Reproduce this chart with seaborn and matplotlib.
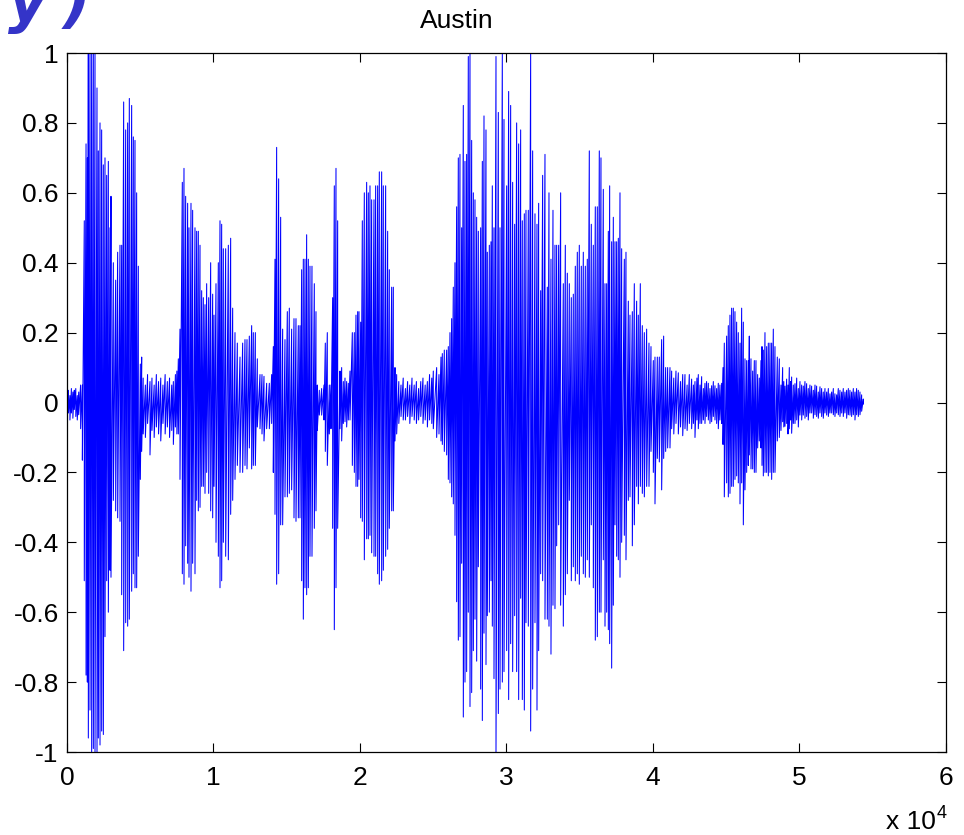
import numpy as np
import pandas as pd
import matplotlib
matplotlib.use("Agg")
import matplotlib.pyplot as plt
import seaborn as sns

# ---------------- data ----------------
# Each stroke of the waveform: sample index, upper peak, lower peak
stroke_pos = [
    0, 100, 200, 300, 400, 500, 600, 700, 800, 930, 1050, 1180, 1300, 1390,
    1456, 1570, 1684, 1798, 1912, 2048, 2139, 2253, 2366, 2480, 2594, 2708,
    2822, 2935, 3003, 3163, 3322, 3459, 3618, 3732, 3868, 4005, 4141, 4255,
    4414, 4528, 4642, 4755, 4869, 5006, 5097,
    5200, 5350, 5500, 5665, 5800, 5950, 6100, 6250, 6400, 6550, 6700, 6850,
    7000, 7150, 7260, 7400, 7500,
    7600, 7713, 7872, 7986, 8100, 8236, 8327, 8464, 8577, 8737, 8850, 8964,
    9080, 9193, 9307, 9420, 9534, 9671, 9807, 9944, 10035, 10171, 10330,
    10444, 10558, 10672, 10831, 11013, 11172, 11309, 11468, 11627, 11809,
    11991, 12150, 12287, 12446, 12605, 12719, 12856, 12992, 13174, 13311,
    13447, 13629, 13811, 13970,
    14084, 14198, 14311, 14448, 14585, 14721, 14880, 15040, 15176, 15335,
    15495, 15631, 15790, 15904, 16018, 16132, 16245, 16359, 16473, 16587,
    16723, 16882, 16996, 17087, 17224, 17383, 17542, 17633, 17769, 17906,
    18020, 18134, 18247, 18362, 18476, 18635, 18749, 18863, 18977, 19090,
    19204, 19318,
    19477, 19614, 19727, 19841, 19932, 20046, 20160, 20296, 20455, 20569,
    20683, 20797, 20956, 21070, 21206, 21320, 21479, 21593, 21752, 21889,
    22002, 22162, 22275, 22389, 22503,
    22650, 22800, 22950, 23100, 23250, 23400, 23550, 23700, 23850, 24000,
    24150, 24300, 24450, 24600, 24750, 24900,
    25005, 25233, 25392, 25529, 25620, 25756, 25915, 26029, 26143, 26257,
    26370, 26484, 26598, 26712, 26825, 26939, 27053, 27167, 27280, 27394,
    27509, 27623, 27737, 27850, 27964, 28078, 28237, 28351, 28465, 28601,
    28692, 28829, 28942, 29033, 29147, 29284, 29443, 29557, 29716, 29830,
    30012, 30148, 30285, 30421, 30558, 30694, 30831, 30967, 31081, 31217,
    31331, 31490, 31650, 31786, 31945, 32082, 32196, 32332, 32469, 32628,
    32787, 32901, 33037, 33174, 33310, 33424, 33561, 33697, 33879, 34016,
    34152, 34289, 34425, 34562, 34698, 34835, 34971, 35108, 35244, 35381,
    35517, 35654, 35790, 35927, 36063, 36200, 36336, 36450, 36609,
    36724, 36838, 36952, 37043, 37179, 37293, 37407, 37520, 37634, 37748,
    37862, 38044, 38157, 38317, 38430, 38590, 38726, 38885, 38999, 39136,
    39272, 39409, 39568, 39727, 39864, 40023, 40137, 40296, 40432, 40592,
    40728, 40865, 41001, 41160,
    41274, 41420, 41570, 41729, 41880, 42030, 42184, 42330, 42480, 42639,
    42760, 42867, 43000, 43094, 43210, 43322, 43440, 43549, 43660, 43777,
    43890, 44004, 44120, 44232, 44345, 44459, 44570, 44687, 44780,
    44869, 45028, 45142, 45256, 45369, 45483, 45597, 45711, 45824, 45939,
    46053, 46167, 46280, 46394, 46508, 46576, 46690, 46804, 46917, 47031,
    47145, 47259, 47372, 47441, 47532, 47645, 47759, 47873, 47987, 48100,
    48214, 48328, 48487, 48624,
    48737, 48851, 48930, 49010, 49124, 49215, 49306, 49390, 49465, 49580,
    49693, 49810, 49920, 50034, 50150, 50261, 50375, 50489, 50600, 50715,
    50830, 50945, 51060, 51171, 51285, 51400, 51513, 51625, 51740, 51854,
    51970, 52080, 52195, 52310, 52420, 52537, 52650, 52764, 52880, 52990,
    53105, 53220, 53335, 53447, 53560, 53675, 53788, 53900, 54015, 54130,
    54243, 54357,
]

stroke_hi = [
    .03, .035, .02, .04, .03, .035, .04, .02, .03, .05, .05, .52, .74, .70,
    1.0, 1.0, 1.0, 1.0, 1.0, .90, .72, .80, .78, .68, .70, .65,
    .69, .50, .59, .40, .35, .43, .45, .45, .86, .78, .80, .87,
    .85, .76, .75, .60, .39, .11, .13,
    .07, .05, .08, .06, .07, .05, .08, .06, .07, .05, .08, .06,
    .07, .05, .06, .08, .09,
    .125, .21, .63, .67, .59, .57, .50, .57, .55, .50, .49, .49,
    .45, .32, .30, .28, .34, .30, .40, .31, .25, .34, .40,
    .52, .51, .44, .44, .45, .47, .27, .20, .17, .13,
    .17, .18, .18, .19, .22, .20, .20, .125, .08, .08,
    .075, .055, .055, .08,
    .16, .41, .73, .64, .53, .21, .18, .26, .27, .21,
    .24, .24, .22, .22, .38, .41, .41, .48, .41, .39,
    .39, .34, .26, .05, .035, .04, .05, .17, .20, .05,
    .05, .30, .62, .67, .52, .09, .10, .06, .07, .06,
    .055, .09,
    .20, .20, .25, .26, .26, .23, .52, .60, .63, .60,
    .62, .58, .58, .62, .62, .66, .66, .62, .62, .49,
    .38, .33, .33, .10, .08,
    .06, .05, .07, .04, .06, .05, .07, .05, .06, .04,
    .06, .07, .05, .06, .08, .07,
    .09, .10, .08, .13, .14, .15, .15, .16, .20, .24,
    .33, .40, .56, .70, .71, .50, .85, .69, .71, .99,
    1.0, .75, .60, .58, .53, .49, .50, .69, .82, .78,
    .43, .45, .46, .62, .50, .99, .83, .50, 1.0, .81,
    .62, .89, .85, .63, .51, .80, .74, .78, .52, .54,
    .55, .55, 1.0, .72, .54, .51, .57, .32, .65, .71,
    .33, .60, .41, .55, .45, .45, .45, .60, .34, .45,
    .37, .34, .30, .31, .39, .43, .45, .39, .43, .39,
    .41, .72, .51, .45, .56, .56, .72, .70, .61,
    .34, .34, .49, .62, .46, .53, .46, .46, .47, .60,
    .44, .41, .43, .29, .25, .26, .34, .29, .25, .34,
    .22, .20, .21, .17, .16, .12, .13, .13, .13, .18,
    .19, .10, .10, .10,
    .09, .07, .09, .085, .06, .08, .08, .05, .08, .067,
    .05, .06, .07, .08, .05, .074, .04, .055, .06, .055,
    .04, .048, .06, .048, .04, .055, .05, .055, .10,
    .17, .19, .22, .25, .27, .27, .26, .23, .20, .17,
    .27, .23, .125, .12, .12, .19, .125, .09, .12, .12,
    .08, .07, .12, .16, .15, .20, .16, .17, .17, .17,
    .21, .16, .13, .125,
    .05, .10, .06, .047, .067, .05, .10, .06, .073, .05,
    .054, .07, .04, .06, .05, .047, .06, .054, .04, .05,
    .047, .035, .05, .047, .03, .045, .04, .03, .04, .03,
    .04, .025, .03, .04, .025, .022, .04, .035, .03, .04,
    .03, .035, .04, .035, .03, .04, .03, .04, .035, .03,
    .022, .01,
]

stroke_lo = [
    -.04, -.03, -.05, -.03, -.045, -.02, -.04, -.05, -.035, -.075, -.165, -.51, -.78, -.80,
    -.96, -.88, -1.0, -.99, -1.0, -1.0, -.96, -.98, -.94, -.95, -.67, -.51,
    -.60, -.48, -.50, -.28, -.31, -.33, -.34, -.55, -.71, -.63, -.64, -.62,
    -.54, -.49, -.53, -.53, -.44, -.22, -.14,
    -.09, -.10, -.06, -.15, -.08, -.10, -.07, -.09, -.11, -.06, -.09, -.07,
    -.10, -.08, -.12, -.07, -.09,
    -.09, -.22, -.49, -.52, -.41, -.46, -.50, -.54, -.46, -.49, -.28, -.31,
    -.30, -.24, -.24, -.26, -.20, -.26, -.31, -.33, -.24, -.40, -.44,
    -.53, -.51, -.40, -.44, -.45, -.32, -.28, -.22, -.18, -.20,
    -.20, -.18, -.19, -.13, -.19, -.18, -.18, -.07, -.075, -.09,
    -.11, -.075, -.075, -.06,
    -.20, -.32, -.52, -.49, -.35, -.35, -.27, -.27, -.26, -.25,
    -.33, -.34, -.33, -.33, -.51, -.62, -.53, -.55, -.53, -.44,
    -.44, -.36, -.31, -.08, -.036, -.036, -.05, -.14, -.18, -.09,
    -.075, -.36, -.65, -.53, -.36, -.075, -.11, -.06, -.055, -.07,
    -.05, -.05,
    -.18, -.20, -.24, -.24, -.22, -.33, -.34, -.45, -.39, -.39,
    -.38, -.43, -.44, -.44, -.49, -.52, -.51, -.48, -.44, -.42,
    -.36, -.31, -.31, -.11, -.09,
    -.06, -.04, -.05, -.05, -.04, -.06, -.04, -.05, -.06, -.05,
    -.04, -.06, -.05, -.07, -.05, -.06,
    -.075, -.10, -.09, -.11, -.12, -.14, -.15, -.22, -.23, -.27,
    -.29, -.38, -.57, -.68, -.67, -.46, -.90, -.80, -.77, -.60,
    -.87, -.83, -.71, -.62, -.74, -.47, -.82, -.91, -.66, -.75,
    -.61, -.60, -.51, -.64, -.79, -1.0, -.89, -.82, -.80, -.77,
    -.71, -.85, -.69, -.77, -.61, -.77, -.85, -.56, -.85, -.88,
    -.63, -.64, -.94, -.82, -.63, -.88, -.71, -.49, -.51, -.62,
    -.62, -.64, -.72, -.58, -.59, -.41, -.35, -.58, -.64, -.55,
    -.49, -.28, -.51, -.47, -.51, -.49, -.52, -.44, -.49, -.50,
    -.45, -.50, -.35, -.53, -.68, -.67, -.60, -.60, -.45,
    -.64, -.60, -.65, -.69, -.76, -.58, -.35, -.44, -.45, -.50,
    -.40, -.38, -.45, -.28, -.27, -.41, -.35, -.24, -.29, -.24,
    -.26, -.27, -.24, -.24, -.14, -.20, -.29, -.16, -.17, -.25,
    -.16, -.14, -.13, -.13,
    -.075, -.09, -.06, -.09, -.07, -.095, -.075, -.08, -.06, -.075,
    -.06, -.10, -.05, -.075, -.06, -.06, -.05, -.06, -.04, -.05,
    -.06, -.055, -.04, -.05, -.06, -.075, -.05, -.06, -.12,
    -.27, -.23, -.27, -.26, -.24, -.24, -.22, -.21, -.23, -.29,
    -.23, -.35, -.25, -.20, -.18, -.15, -.19, -.19, -.20, -.20,
    -.13, -.11, -.13, -.18, -.21, -.20, -.20, -.21, -.20, -.22,
    -.20, -.20, -.11, -.10,
    -.08, -.055, -.07, -.068, -.06, -.09, -.075, -.05, -.088, -.06,
    -.06, -.05, -.07, -.036, -.05, -.036, -.045, -.04, -.05, -.03,
    -.03, -.045, -.035, -.04, -.045, -.03, -.04, -.045, -.03, -.036,
    -.04, -.03, -.03, -.035, -.04, -.03, -.035, -.04, -.03, -.04,
    -.03, -.045, -.035, -.036, -.04, -.035, -.05, -.035, -.04, -.035,
    -.025, -.005,
]

x_tick_values = [0, 10000, 20000, 30000, 40000, 50000, 60000]
x_tick_labels = ["0", "1", "2", "3", "4", "5", "6"]
y_tick_values = [-1, -0.8, -0.6, -0.4, -0.2, 0, 0.2, 0.4, 0.6, 0.8, 1]
y_tick_labels = ["-1", "-0.8", "-0.6", "-0.4", "-0.2", "0",
                 "0.2", "0.4", "0.6", "0.8", "1"]
title_text = "Austin"
exponent_base = "x 10"
exponent_power = "4"
corner_letter = "y"
corner_paren = ")"

# ---------------- build the waveform table ----------------
pos = np.asarray(stroke_pos, dtype=float)
hi = np.asarray(stroke_hi, dtype=float)
lo = np.asarray(stroke_lo, dtype=float)
n = min(len(pos), len(hi), len(lo))
pos, hi, lo = pos[:n], hi[:n], lo[:n]
df = pd.DataFrame({
    "sample": np.repeat(pos, 2),
    "amplitude": np.column_stack([hi, lo]).ravel(),
})

# ---------------- plotting ----------------
sns.set_style("white")
plt.rcParams["font.family"] = ["Liberation Sans", "DejaVu Sans"]

fig = plt.figure(figsize=(9.64, 8.35), dpi=100)
ax = fig.add_axes([0.0695, 0.0994, 0.9118, 0.8371])

sns.lineplot(data=df, x="sample", y="amplitude", sort=False, estimator=None,
             color="#0000ff", linewidth=0.75, ax=ax)

ax.set_xlim(0, 60000)
ax.set_ylim(-1, 1)
ax.set_xticks(x_tick_values)
ax.set_xticklabels(x_tick_labels)
ax.set_yticks(y_tick_values)
ax.set_yticklabels(y_tick_labels)
ax.set_xlabel("")
ax.set_ylabel("")
ax.grid(False)

for sp in ax.spines.values():
    sp.set_visible(True)
    sp.set_color("black")
    sp.set_linewidth(0.9)

ax.tick_params(axis="both", which="major", direction="in", length=6.5,
               width=0.8, color="black", labelsize=19, labelcolor="black",
               top=True, right=True, bottom=True, left=True)
ax.tick_params(axis="x", pad=10)
ax.tick_params(axis="y", pad=6)

# title (placed over the reference position)
fig.text(457 / 964, 1 - 28 / 835, title_text, ha="center", va="baseline",
         fontsize=19, color="black")

# exponent label at the bottom right
fig.text(886 / 964, 1 - 829 / 835, exponent_base, ha="left", va="baseline",
         fontsize=19, color="black")
fig.text(937 / 964, 1 - 818 / 835, exponent_power, ha="left", va="baseline",
         fontsize=13, color="black")

# partially visible heading from the slide at the top-left
fig.text(8 / 964, 1 - 21 / 835, corner_letter, ha="left", va="baseline",
         fontsize=44, color="#3434c8", style="italic", fontweight="bold",
         family="DejaVu Sans")
fig.text(63 / 964, 1 - 21 / 835, corner_paren, ha="left", va="baseline",
         fontsize=44, color="#3434c8", style="italic", fontweight="bold",
         family="DejaVu Sans")

fig.savefig("out.png", dpi=100)
